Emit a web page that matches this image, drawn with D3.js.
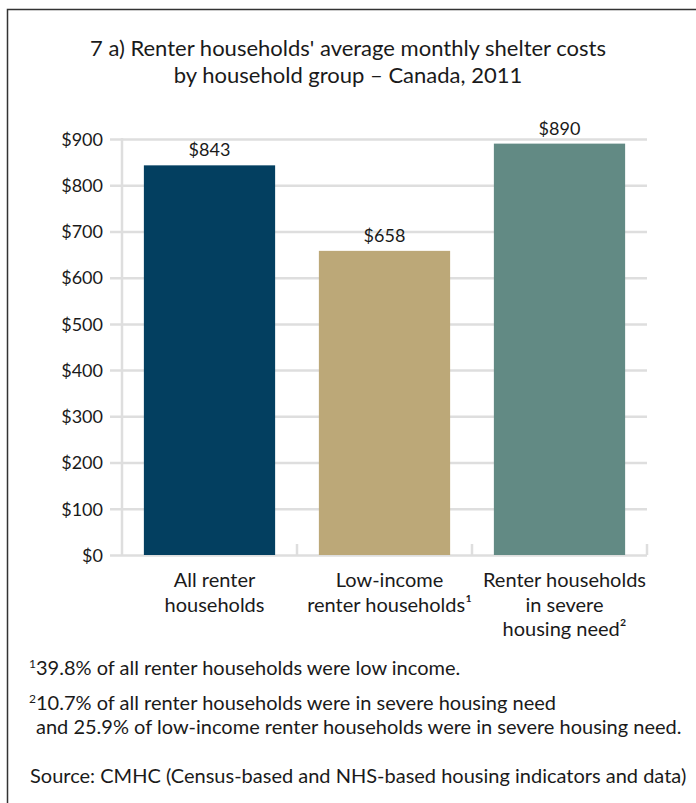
<!DOCTYPE html>
<html>
<head>
<meta charset="utf-8">
<script src="https://cdn.jsdelivr.net/npm/d3@7"></script>
<style>
  html, body { margin: 0; padding: 0; background: #fff; }
  svg { display: block; font-family: Lato, "Open Sans", sans-serif; }
</style>
</head>
<body>
<svg id="chart" width="696" height="803"></svg>
<script>
// Average monthly shelter costs, renter households, Canada 2011
const categories = [
  ["All renter", "households"],
  ["Low-income", "renter households¹"],
  ["Renter households", "in severe", "housing need²"]
];
const values = [843, 658, 890];
const colors = ["#033f60", "#bca878", "#628a84"];
const yTicks = [0, 100, 200, 300, 400, 500, 600, 700, 800, 900];
const titleLines = [
  "7 a) Renter households' average monthly shelter costs",
  "by household group – Canada, 2011"
];
const footnotes = [
  { sup: "1", text: "39.8% of all renter households were low income." },
  { sup: "2", text: "10.7% of all renter households were in severe housing need" },
  { sup: "", text: "and 25.9% of low-income renter households were in severe housing need." }
];
const source = "Source: CMHC (Census-based and NHS-based housing indicators and data)";

const svg = d3.select("#chart");
const ink = "#1a1a1a";
const gridColor = "#dedede";

// frame
svg.append("path")
  .attr("d", "M7.5,803 V9.5 H696")
  .attr("fill", "none")
  .attr("stroke", "#333")
  .attr("stroke-width", 1.5);

// title
svg.append("g").selectAll("text").data(titleLines).join("text")
  .attr("x", 348).attr("y", (d, i) => 56 + i * 27)
  .attr("text-anchor", "middle")
  .attr("font-size", 22)
  .attr("fill", ink)
  .text(d => d);

const plot = { left: 122, right: 647, top: 139, bottom: 555 };

const x = d3.scaleBand()
  .domain(d3.range(values.length))
  .range([plot.left, plot.right])
  .paddingInner(0.25)
  .paddingOuter(0.125);

const y = d3.scaleLinear()
  .domain([0, 900])
  .range([plot.bottom, plot.top]);

// horizontal gridlines and y labels
const yAxis = svg.append("g")
  .attr("transform", `translate(${plot.left},0)`)
  .call(d3.axisLeft(y).tickValues(yTicks).tickFormat(d => "$" + d)
    .tickSize(-(plot.right - plot.left)).tickPadding(19));
yAxis.select(".domain").remove();
yAxis.selectAll(".tick line")
  .attr("x1", -12)
  .attr("stroke", gridColor).attr("stroke-width", 2.5);
yAxis.selectAll(".tick text")
  .attr("font-size", 18).attr("fill", ink)
  .attr("font-family", "Lato, sans-serif")
  .attr("dy", "0.35em");

// vertical axis line
svg.append("line")
  .attr("x1", plot.left).attr("x2", plot.left)
  .attr("y1", y(900) - 1).attr("y2", plot.bottom)
  .attr("stroke", gridColor).attr("stroke-width", 2.5);

// category boundary ticks on the baseline
const step = x.step();
const bounds = d3.range(1, values.length + 1).map(i => plot.left + i * step);
svg.append("g").selectAll("line").data(bounds).join("line")
  .attr("x1", d => d).attr("x2", d => d)
  .attr("y1", plot.bottom - 11).attr("y2", plot.bottom)
  .attr("stroke", gridColor).attr("stroke-width", 2.5);

// bars
svg.append("g").selectAll("rect").data(values).join("rect")
  .attr("x", (d, i) => x(i))
  .attr("y", d => y(d))
  .attr("width", x.bandwidth())
  .attr("height", d => y(0) - y(d))
  .attr("fill", (d, i) => colors[i]);

// value labels
svg.append("g").selectAll("text").data(values).join("text")
  .attr("x", (d, i) => x(i) + x.bandwidth() / 2)
  .attr("y", d => y(d) - 9)
  .attr("text-anchor", "middle")
  .attr("font-size", 18)
  .attr("fill", ink)
  .text(d => "$" + d);

// category labels
const catG = svg.append("g");
categories.forEach((lines, i) => {
  const cx = x(i) + x.bandwidth() / 2 + 5;
  const t = catG.append("text")
    .attr("x", cx)
    .attr("y", 587)
    .attr("text-anchor", "middle")
    .attr("font-size", 20)
    .attr("fill", ink);
  lines.forEach((ln, j) => {
    t.append("tspan")
      .attr("x", cx)
      .attr("dy", j === 0 ? 0 : 24.5)
      .text(ln);
  });
});

// footnotes
const fn = svg.append("g").attr("font-size", 20).attr("fill", ink);
const fnY = [675, 710, 734];
footnotes.forEach((f, i) => {
  const t = fn.append("text").attr("x", f.sup ? 29 : 36).attr("y", fnY[i]);
  if (f.sup) t.append("tspan").attr("font-size", 12).attr("dy", -7).text(f.sup);
  t.append("tspan").attr("dy", f.sup ? 7 : 0).text(f.text);
});
fn.append("text").attr("x", 30).attr("y", 783).text(source);
</script>
</body>
</html>
